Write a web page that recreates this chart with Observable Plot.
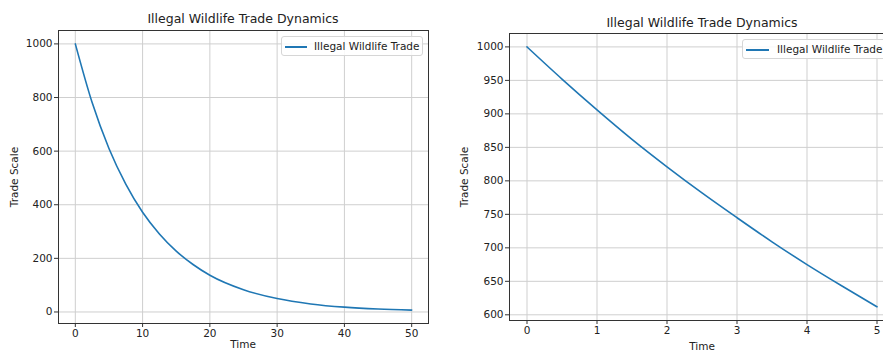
<!DOCTYPE html>
<html>
<head>
<meta charset="utf-8">
<script src="https://cdn.jsdelivr.net/npm/d3@7"></script>
<script src="https://cdn.jsdelivr.net/npm/@observablehq/plot@0.6"></script>
<style>
  html, body { margin: 0; padding: 0; background: #fff; }
  body { width: 883px; height: 351px; overflow: hidden; position: relative; font-family: "DejaVu Sans", sans-serif; }
  .abs { position: absolute; white-space: nowrap; color: #222; }
  .title { font-size: 12.5px; transform: translate(-50%, -50%); }
  .xlabel { font-size: 10.5px; transform: translate(-50%, -50%); }
  .ylabel { font-size: 10.5px; transform: translate(-50%, -50%) rotate(-90deg); }
  .legend { border: 1px solid #d6d6d6; border-radius: 3px; background: rgba(255,255,255,0.85); box-sizing: border-box; font-size: 10.5px; overflow: hidden; }
  .legend .swatch { position: absolute; height: 0; border-top: 2px solid #1f77b4; }
  .legend .txt { position: absolute; transform: translateY(-50%); }
  #left, #right { position: absolute; top: 0; }
  #left { left: 0; width: 440px; }
  #right { left: 440px; width: 460px; }
  svg { max-width: none !important; }
</style>
</head>
<body>
<div id="left"></div>
<div id="right"></div>
<script>
// ---- data ----
const chartTitle = "Illegal Wildlife Trade Dynamics";
const seriesName = "Illegal Wildlife Trade";
const xLabel = "Time";
const yLabel = "Trade Scale";

// Left panel: time 0..50
const leftTime  = [0, 2.5, 5, 7.5, 10, 12.5, 15, 17.5, 20, 25, 30, 35, 40, 45, 50];
const leftTrade = [1000, 781, 610, 477, 372, 291, 227, 177, 137, 83, 50, 30, 18, 11, 7];
const leftXTicks = [0, 10, 20, 30, 40, 50];
const leftYTicks = [0, 200, 400, 600, 800, 1000];

// Right panel: time 0..5
const rightTime  = [0, 0.5, 1, 1.5, 2, 2.5, 3, 3.5, 4, 4.5, 5];
const rightTrade = [1000, 952, 906, 862, 821, 782, 745, 709, 675, 643, 612];
const rightXTicks = [0, 1, 2, 3, 4, 5];
const rightYTicks = [600, 650, 700, 750, 800, 850, 900, 950, 1000];

const lineColor = "#1f77b4";
const gridColor = "#cfcfcf";

function panel({time, trade, xTicks, yTicks, xDomain, yDomain, width, height, margins}) {
  const data = time.map((t, i) => ({t, v: trade[i]}));
  return Plot.plot({
    width, height,
    marginLeft: margins[0], marginRight: margins[1], marginTop: margins[2], marginBottom: margins[3],
    style: {fontFamily: "DejaVu Sans, sans-serif", fontSize: "10.5px", color: "#222", background: "transparent", overflow: "visible", maxWidth: "none"},
    x: {domain: xDomain},
    y: {domain: yDomain},
    marks: [
      Plot.gridX(xTicks, {stroke: gridColor, strokeOpacity: 1, strokeWidth: 1}),
      Plot.gridY(yTicks, {stroke: gridColor, strokeOpacity: 1, strokeWidth: 1}),
      Plot.axisX(xTicks, {tickSize: 4, tickPadding: 2, tickFormat: d => String(d), label: null, stroke: "#333", fill: "#222"}),
      Plot.axisY(yTicks, {tickSize: 4, tickPadding: 2, tickFormat: d => String(d), label: null, stroke: "#333", fill: "#222"}),
      Plot.line(data, {x: "t", y: "v", stroke: lineColor, strokeWidth: 1.6, curve: "monotone-x"}),
      Plot.frame({stroke: "#333", strokeWidth: 1})
    ]
  });
}

document.getElementById("left").append(panel({
  time: leftTime, trade: leftTrade, xTicks: leftXTicks, yTicks: leftYTicks,
  xDomain: [-2.5, 52.5], yDomain: [-43, 1050],
  width: 440, height: 351, margins: [58, 12, 30, 28]
}));

document.getElementById("right").append(panel({
  time: rightTime, trade: rightTrade, xTicks: rightXTicks, yTicks: rightYTicks,
  xDomain: [-0.25, 5.25], yDomain: [591.5, 1020],
  width: 460, height: 351, margins: [69, 6, 33, 31]
}));

// ---- text overlays: titles, axis labels, legends ----
function addText(cls, text, x, y) {
  const d = document.createElement("div");
  d.className = "abs " + cls;
  d.textContent = text;
  d.style.left = x + "px";
  d.style.top = y + "px";
  document.body.append(d);
}
function addLegend(x, y, w, h, swX, swW, txX) {
  const box = document.createElement("div");
  box.className = "abs legend";
  Object.assign(box.style, {left: x + "px", top: y + "px", width: w + "px", height: h + "px"});
  const sw = document.createElement("div");
  sw.className = "swatch";
  Object.assign(sw.style, {left: swX + "px", width: swW + "px", top: (h / 2 - 1.5) + "px"});
  const tx = document.createElement("div");
  tx.className = "txt";
  tx.textContent = seriesName;
  Object.assign(tx.style, {left: txX + "px", top: (h / 2 - 1) + "px"});
  box.append(sw, tx);
  document.body.append(box);
}

addText("title", chartTitle, 243, 18);
addText("title", chartTitle, 702, 22);
addText("xlabel", xLabel, 243, 344);
addText("xlabel", xLabel, 702, 346);
addText("ylabel", yLabel, 14, 177);
addText("ylabel", yLabel, 464, 177);
addLegend(281, 36, 142, 20, 3, 22, 32);
addLegend(742, 39, 150, 20, 3, 23, 34);
</script>
</body>
</html>
